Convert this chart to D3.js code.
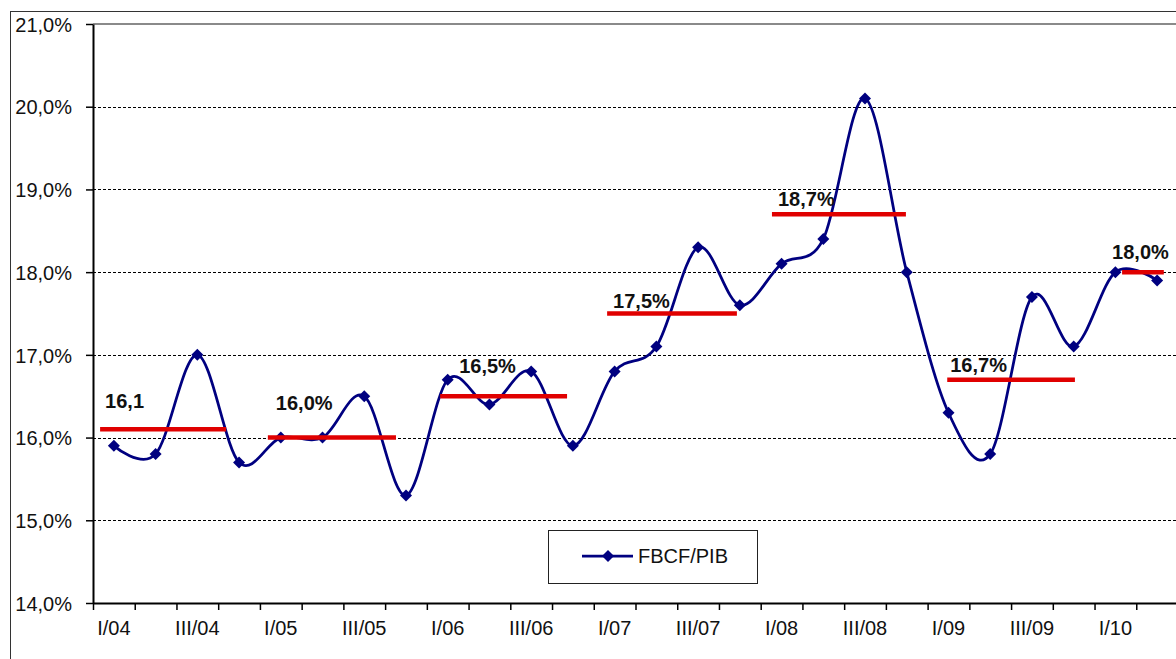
<!DOCTYPE html>
<html>
<head>
<meta charset="utf-8">
<script src="https://cdn.jsdelivr.net/npm/d3@7"></script>
<style>
  html, body { margin: 0; padding: 0; background: #fff; }
  svg { display: block; font-family: "Liberation Sans", Arial, sans-serif; }
</style>
</head>
<body>
<script>
// Quarterly gross fixed capital formation as a share of GDP (FBCF/PIB)
const quarters = [
  "I/04", "II/04", "III/04", "IV/04",
  "I/05", "II/05", "III/05", "IV/05",
  "I/06", "II/06", "III/06", "IV/06",
  "I/07", "II/07", "III/07", "IV/07",
  "I/08", "II/08", "III/08", "IV/08",
  "I/09", "II/09", "III/09", "IV/09",
  "I/10", "II/10"
];
const fbcfPib = [
  15.9, 15.8, 17.0, 15.7,
  16.0, 16.0, 16.5, 15.3,
  16.7, 16.4, 16.8, 15.9,
  16.8, 17.1, 18.3, 17.6,
  18.1, 18.4, 20.1, 18.0,
  16.3, 15.8, 17.7, 17.1,
  18.0, 17.9
];

// Annual averages
const years = ["2004", "2005", "2006", "2007", "2008", "2009", "2010"];
const yearAvg = [16.1, 16.0, 16.5, 17.5, 18.7, 16.7, 18.0];
const yearAvgLabels = ["16,1", "16,0%", "16,5%", "17,5%", "18,7%", "16,7%", "18,0%"];

const yTicks = [14, 15, 16, 17, 18, 19, 20, 21];
const seriesName = "FBCF/PIB";

// ---- layout ----
const W = 1176, H = 659;
const plot = { left: 93, right: 1178, top: 24, bottom: 603 };
// horizontal extent of each average bar, in quarter units
const avgSpan = [[0.17, 3.19], [4.19, 7.26], [8.32, 11.36], [12.32, 15.43],
                 [16.27, 19.48], [20.47, 23.53], [24.66, 25.66]];
// position of each average label relative to the start of its bar
const avgLabelOffset = [[5, -21], [8, -28], [19, -23], [6, -6], [6, -8], [3, -8], [-10, -13]];

const navy = "#000080";
const red = "#e00000";

const locale = d3.formatLocale({ decimal: ",", thousands: ".", grouping: [3], currency: ["", ""] });
const fmtPct = v => locale.format(".1f")(v) + "%";

const svg = d3.select("body").append("svg")
  .attr("width", W).attr("height", H);

const x = d3.scaleLinear().domain([0, quarters.length]).range([plot.left, plot.right]);
const y = d3.scaleLinear().domain([14, 21]).range([plot.bottom, plot.top]);

// outer chart frame
svg.append("rect")
  .attr("x", 10.5).attr("y", 11.5)
  .attr("width", 1300).attr("height", 800)
  .attr("fill", "#fff").attr("stroke", "#333").attr("stroke-width", 1);

// gridlines
svg.append("g").selectAll("line")
  .data(yTicks.filter(t => t > 14 && t < 21))
  .join("line")
  .attr("x1", plot.left).attr("x2", plot.right)
  .attr("y1", d => Math.round(y(d)) + 0.5).attr("y2", d => Math.round(y(d)) + 0.5)
  .attr("stroke", "#000").attr("stroke-width", 1)
  .attr("stroke-dasharray", "3,2");

// plot-area top border
svg.append("line")
  .attr("x1", plot.left).attr("x2", plot.right)
  .attr("y1", y(21)).attr("y2", y(21))
  .attr("stroke", "#8a8a8a").attr("stroke-width", 2);

// y axis
const yAxis = svg.append("g")
  .attr("transform", `translate(${plot.left},0)`)
  .call(d3.axisLeft(y).tickValues(yTicks).tickSize(7).tickSizeOuter(0).tickPadding(14).tickFormat(fmtPct));
yAxis.select(".domain").attr("stroke", "#000").attr("stroke-width", 2);
yAxis.selectAll(".tick line").attr("stroke", "#000").attr("stroke-width", 1.5);
yAxis.selectAll(".tick text")
  .attr("font-family", "Liberation Sans, Arial, sans-serif")
  .attr("font-size", 20).attr("fill", "#111").attr("dy", "0.36em");

// x axis: ticks on quarter boundaries
const xAxis = svg.append("g")
  .attr("transform", `translate(0,${plot.bottom})`)
  .call(d3.axisBottom(x).tickValues(d3.range(0, quarters.length + 1)).tickSize(7).tickSizeOuter(0).tickFormat(""));
xAxis.select(".domain").attr("stroke", "#000").attr("stroke-width", 2);
xAxis.selectAll(".tick line").attr("stroke", "#000").attr("stroke-width", 1.5);

// x labels on every other quarter
svg.append("g").selectAll("text")
  .data(quarters.map((q, i) => ({ q, i })).filter(d => d.i % 2 === 0))
  .join("text")
  .attr("x", d => x(d.i + 0.5))
  .attr("y", 635)
  .attr("text-anchor", "middle")
  .attr("font-size", 20).attr("fill", "#111")
  .text(d => d.q);

// series line
const line = d3.line()
  .x((d, i) => x(i + 0.5))
  .y(d => y(d))
  .curve(d3.curveCatmullRom.alpha(0));

svg.append("path")
  .datum(fbcfPib)
  .attr("d", line)
  .attr("fill", "none")
  .attr("stroke", navy).attr("stroke-width", 2.75);

const diamond = d3.symbol(d3.symbolSquare, 72);
svg.append("g").selectAll("path")
  .data(fbcfPib)
  .join("path")
  .attr("d", diamond)
  .attr("transform", (d, i) => `translate(${x(i + 0.5)},${y(d)}) rotate(45)`)
  .attr("fill", navy);

// annual average bars and labels
const avgG = svg.append("g");
avgG.selectAll("line")
  .data(yearAvg)
  .join("line")
  .attr("x1", (d, i) => x(avgSpan[i][0]))
  .attr("x2", (d, i) => x(avgSpan[i][1]))
  .attr("y1", d => y(d)).attr("y2", d => y(d))
  .attr("stroke", red).attr("stroke-width", 4.5);

avgG.selectAll("text")
  .data(yearAvg)
  .join("text")
  .attr("x", (d, i) => x(avgSpan[i][0]) + avgLabelOffset[i][0])
  .attr("y", (d, i) => y(d) + avgLabelOffset[i][1])
  .attr("font-size", 20).attr("font-weight", "bold").attr("fill", "#111")
  .text((d, i) => yearAvgLabels[i]);

// legend
const lg = svg.append("g").attr("transform", "translate(548,530)");
lg.append("rect")
  .attr("x", 0.5).attr("y", 0.5).attr("width", 209).attr("height", 53)
  .attr("fill", "#fff").attr("stroke", "#222").attr("stroke-width", 1);
lg.append("line")
  .attr("x1", 34).attr("x2", 85).attr("y1", 26).attr("y2", 26)
  .attr("stroke", navy).attr("stroke-width", 2.75);
lg.append("path")
  .attr("d", diamond)
  .attr("transform", "translate(60,26) rotate(45)")
  .attr("fill", navy);
lg.append("text")
  .attr("x", 90).attr("y", 33)
  .attr("font-size", 20).attr("fill", "#111")
  .text(seriesName);
</script>
</body>
</html>
